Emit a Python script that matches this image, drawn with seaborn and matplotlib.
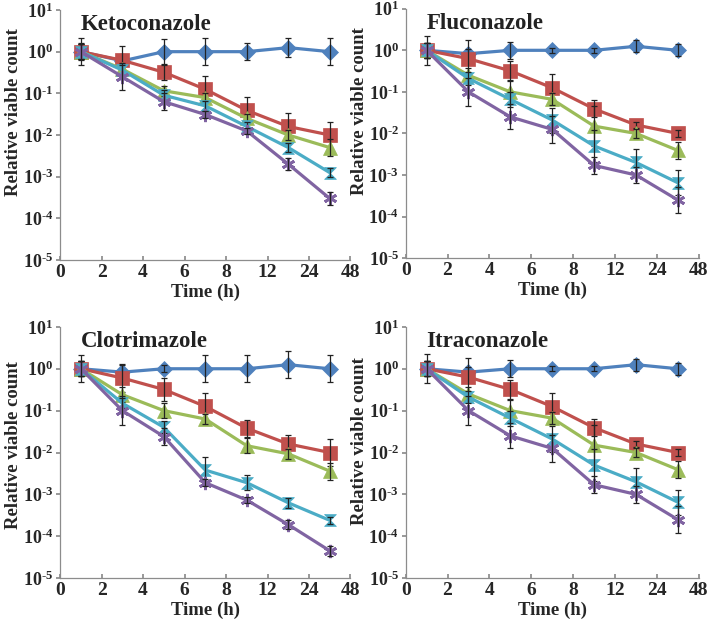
"""
Time-kill curves for four azoles (2x2 panels, log y axis).
"""

import matplotlib
matplotlib.use("Agg")

import numpy as np
import matplotlib.pyplot as plt
from matplotlib.path import Path
import seaborn as sns

# --- data ---
time_ticks = ["0", "2", "4", "6", "8", "12", "24", "48"]
ytick_vals = [1e-5, 1e-4, 1e-3, 1e-2, 1e-1, 1e0, 1e1]
ytick_labels = ["10$^{\\text{-}5}$", "10$^{\\text{-}4}$", "10$^{\\text{-}3}$",
                "10$^{\\text{-}2}$", "10$^{\\text{-}1}$", "10$^{0}$", "10$^{1}$"]

drugs = ["Ketoconazole", "Fluconazole", "Clotrimazole", "Itraconazole"]

# values per drug, one list per series (blue, red, green, cyan, purple)
keto_blue = [1.0, 0.6, 1.0, 1.0, 1.0, 1.25, 1.0]
keto_red = [1.0, 0.62, 0.32, 0.125, 0.039, 0.016, 0.01]
keto_green = [1.0, 0.38, 0.115, 0.079, 0.025, 0.01, 0.005]
keto_cyan = [1.0, 0.36, 0.09, 0.05, 0.016, 0.005, 0.00125]
keto_purple = [1.0, 0.25, 0.063, 0.031, 0.0125, 0.002, 0.0003]

flu_blue = [1.0, 0.83, 1.0, 1.0, 1.0, 1.25, 1.0]
flu_red = [1.0, 0.63, 0.32, 0.125, 0.039, 0.016, 0.01]
flu_green = [1.0, 0.25, 0.1, 0.066, 0.015, 0.01, 0.0039]
flu_cyan = [1.0, 0.21, 0.066, 0.021, 0.005, 0.002, 0.00065]
flu_purple = [1.0, 0.1, 0.025, 0.0125, 0.0017, 0.001, 0.00025]

clo_blue = [1.0, 0.83, 1.0, 1.0, 1.0, 1.25, 1.0]
clo_red = [1.0, 0.6, 0.32, 0.126, 0.038, 0.016, 0.01]
clo_green = [1.0, 0.24, 0.1, 0.063, 0.0145, 0.0093, 0.0036]
clo_cyan = [1.0, 0.15, 0.04, 0.0038, 0.0019, 0.00063, 0.00024]
clo_purple = [1.0, 0.1, 0.024, 0.0019, 0.00073, 0.00019, 0.000045]

itra_blue = [1.0, 0.83, 1.0, 1.0, 1.0, 1.25, 1.0]
itra_red = [1.0, 0.63, 0.32, 0.125, 0.039, 0.016, 0.01]
itra_green = [1.0, 0.25, 0.1, 0.066, 0.015, 0.01, 0.0039]
itra_cyan = [1.0, 0.21, 0.066, 0.021, 0.005, 0.002, 0.00065]
itra_purple = [1.0, 0.1, 0.025, 0.0125, 0.0017, 0.001, 0.00025]

# error bars as multiplicative factors (value*f up, value/f down)
keto_err = [[2.1, 1.5, 2.0, 2.1, 1.6, 1.7, 2.1],
            [1.6, 2.2, 1.5, 2.1, 2.1, 2.1, 2.0],
            [1.5, 1.3, 1.3, 1.3, 1.3, 1.3, 1.6],
            [1.5, 1.3, 1.3, 1.3, 1.3, 1.3, 1.3],
            [1.5, 2.1, 1.6, 1.2, 1.2, 1.4, 1.4]]
flu_err = [[2.2, 1.3, 1.6, 1.15, 1.15, 1.4, 1.4],
           [1.5, 2.8, 1.7, 2.1, 1.6, 1.2, 1.2],
           [1.5, 1.5, 1.8, 1.4, 3.0, 1.3, 1.6],
           [1.5, 1.4, 1.5, 2.0, 2.4, 2.1, 2.0],
           [1.5, 2.2, 2.0, 2.1, 1.6, 1.6, 2.1]]
clo_err = [[2.1, 1.6, 1.2, 2.1, 2.1, 2.1, 2.1],
           [1.5, 2.1, 1.9, 2.1, 1.6, 1.6, 2.1],
           [1.5, 1.5, 1.5, 1.3, 1.5, 1.3, 1.6],
           [1.5, 1.3, 1.4, 2.1, 1.5, 1.3, 1.2],
           [1.5, 2.2, 1.6, 1.2, 1.2, 1.3, 1.3]]
itra_err = [[2.2, 1.3, 1.6, 1.15, 1.15, 1.4, 1.4],
            [1.5, 2.8, 1.7, 2.1, 1.6, 1.2, 1.2],
            [1.5, 1.5, 1.8, 1.4, 3.0, 1.3, 1.6],
            [1.5, 1.4, 1.5, 2.0, 2.4, 2.1, 2.0],
            [1.5, 2.2, 2.0, 2.1, 1.6, 1.6, 2.1]]

panels = [
    [keto_blue, keto_red, keto_green, keto_cyan, keto_purple],
    [flu_blue, flu_red, flu_green, flu_cyan, flu_purple],
    [clo_blue, clo_red, clo_green, clo_cyan, clo_purple],
    [itra_blue, itra_red, itra_green, itra_cyan, itra_purple],
]
panel_errs = [keto_err, flu_err, clo_err, itra_err]

colors = ["#4F81BD", "#C0504D", "#9BBB59", "#4BACC6", "#8064A2"]
hourglass = Path([(-1, 1), (1, 1), (-1, -1), (1, -1), (-1, 1)])
markers = ["D", "s", "^", hourglass, (6, 2, 0)]
msizes = [8, 9.5, 9.5, 8.5, 9.5]

sns.set_theme(style="white")
plt.rcParams["font.family"] = ["Liberation Serif", "DejaVu Serif"]
plt.rcParams["font.weight"] = "bold"
plt.rcParams["mathtext.fontset"] = "custom"
plt.rcParams["mathtext.rm"] = "Liberation Serif:bold"
plt.rcParams["mathtext.default"] = "rm"

fig = plt.figure(figsize=(7.08, 6.25), dpi=100)

# axes boxes in figure fractions (left, bottom, width, height)
boxes = [(0.085, 0.584, 0.41, 0.400),
         (0.573, 0.587, 0.414, 0.399),
         (0.085, 0.075, 0.41, 0.402),
         (0.573, 0.075, 0.414, 0.402)]
ylabel_y = [0.59, 0.59, 0.53, 0.545]

for k, drug in enumerate(drugs):
    ax = fig.add_axes(boxes[k])
    pos = np.arange(len(panels[k][0])) + 0.5  # points sit between tick marks
    for i, vals in enumerate(panels[k]):
        v = np.array(vals)
        f = np.array(panel_errs[k][i])
        filled = i < 4
        sns.lineplot(x=pos, y=v, ax=ax, color=colors[i], linewidth=2.3,
                     marker=markers[i], markersize=msizes[i],
                     markerfacecolor=colors[i] if filled else "none",
                     markeredgecolor=colors[i],
                     markeredgewidth=0.5 if filled else 2.0,
                     zorder=3 + i)
        ax.errorbar(pos, v, yerr=[v - v / f, v * f - v], fmt="none",
                    ecolor="#222222", elinewidth=0.9, capsize=2.5,
                    capthick=0.9, zorder=3 + i)

    ax.set_yscale("log")
    ax.set_ylim(1e-5, 1e1)
    ax.set_yticks(ytick_vals)
    ax.set_yticklabels(ytick_labels, fontsize=13)
    ax.minorticks_off()
    ax.set_xlim(0, len(time_ticks) - 1)
    ax.set_xticks(range(len(time_ticks)))
    ax.set_xticklabels(time_ticks, fontsize=14, fontweight="bold")

    for side in ["top", "right"]:
        ax.spines[side].set_visible(False)
    for side in ["left", "bottom"]:
        ax.spines[side].set_color("#8c8c8c")
        ax.spines[side].set_linewidth(0.9)
    ax.tick_params(axis="y", left=True, length=3, color="#8c8c8c", pad=2)
    ax.tick_params(axis="x", bottom=True, direction="in", length=3,
                   color="#8c8c8c", pad=3)

    ax.set_xlabel("Time (h)", fontsize=13.5, fontweight="bold", labelpad=2)
    ax.set_ylabel("Relative viable count", fontsize=13.5, fontweight="bold")
    ax.yaxis.set_label_coords(-0.13, ylabel_y[k])
    ax.text(0.07, 0.94, drug, transform=ax.transAxes, fontsize=16.5,
            fontweight="bold", ha="left", va="center", color="#222222")

fig.savefig("out.png", dpi=100)
